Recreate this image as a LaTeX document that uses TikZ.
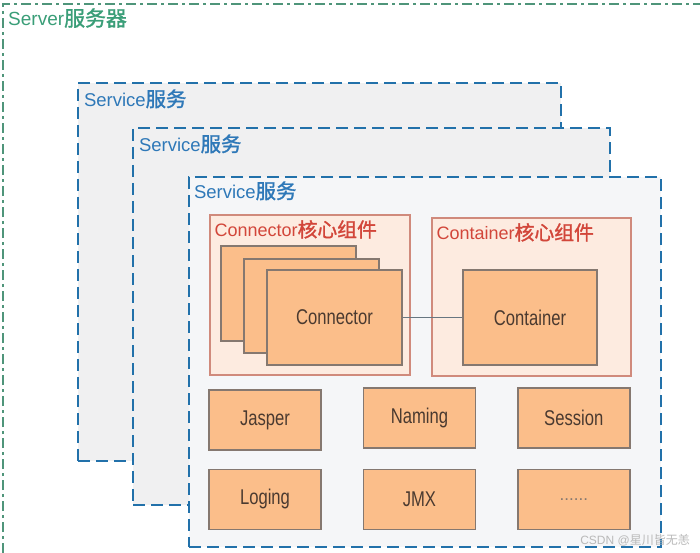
\documentclass[tikz,border=0pt]{standalone}
\usepackage{fontspec}
\setmainfont{Liberation Sans}
\newfontfamily\cjk{Noto Sans CJK SC}[FakeBold=1.5, Scale=1.1]
\newfontfamily\cjkthin{Noto Sans CJK SC}
\usetikzlibrary{positioning}

\definecolor{srvgreen}{HTML}{3A9E78}
\definecolor{svcblue}{HTML}{2271AA}
\definecolor{svctext}{HTML}{2E78B8}
\definecolor{svcgray}{HTML}{F0F0F1}
\definecolor{svclight}{HTML}{F5F6F8}
\definecolor{grpline}{HTML}{D08A7C}
\definecolor{grpfill}{HTML}{FDEBE0}
\definecolor{grptext}{HTML}{D2463A}
\definecolor{compline}{HTML}{857870}
\definecolor{compfill}{HTML}{FBBE8A}
\definecolor{comptext}{HTML}{4A3A30}

\newcommand{\tall}[1]{\scalebox{0.95}[1.22]{#1}}

\tikzset{
  svc/.style={draw=svcblue, line width=2.4pt, dash pattern=on 12pt off 6pt, fill=svcgray, inner sep=0pt},
  svctitle/.style={anchor=west, text=svctext, font=\fontsize{18.5}{20}\selectfont, inner sep=0pt},
  grp/.style={draw=grpline, line width=1.2pt, fill=grpfill, inner sep=0pt},
  grptitle/.style={anchor=west, text=grptext, font=\fontsize{18}{20}\selectfont, inner sep=0pt},
  comp/.style={draw=compline, line width=1.4pt, fill=compfill, text=comptext,
    font=\fontsize{17.5}{19}\selectfont, inner sep=0pt, minimum width=112pt, minimum height=60pt},
}

\begin{document}
\begin{tikzpicture}[x=1pt, y=-1pt]
\useasboundingbox[fill=white] (0,0) rectangle (700,553);

% Server frame
\draw[srvgreen!70!gray, line width=2pt, dash pattern=on 10pt off 4pt on 3pt off 4pt] (3,553) -- (3,4) -- (700,4);
\node[anchor=west, text=srvgreen, font=\fontsize{19}{21}\selectfont, inner sep=0pt] (srvtitle) at (8,18) {Server{\cjk 服务器}};

% Services
\node[svc, minimum width=483pt, minimum height=378pt] (svc1) at (319.5,272) {};
\node[svctitle] (svc1t) at ([xshift=7pt, yshift=-17pt]svc1.north west) {Service{\cjk 服务}};
\node[svc, minimum width=477pt, minimum height=377pt] (svc2) at (371.5,316.5) {};
\node[svctitle] (svc2t) at ([xshift=7pt, yshift=-17pt]svc2.north west) {Service{\cjk 服务}};
\node[svc, fill=svclight, minimum width=472pt, minimum height=370pt] (svc3) at (425,362) {};
\node[svctitle] (svc3t) at ([xshift=6pt, yshift=-15pt]svc3.north west) {Service{\cjk 服务}};

% Core groups
\node[grp, minimum width=200pt, minimum height=160pt] (conngrp) at (310,295) {};
\node[grptitle] (conngrpt) at ([xshift=5pt, yshift=-15pt]conngrp.north west) {Connector{\cjk 核心组件}};
\node[grp, minimum width=199pt, minimum height=158pt] (contgrp) at (531.5,297) {};
\node[grptitle] (contgrpt) at ([xshift=5pt, yshift=-15pt]contgrp.north west) {Container{\cjk 核心组件}};

% Connectors and container
\node[comp, minimum width=135pt, minimum height=95pt] (conn1) at (288.5,293.5) {};
\node[comp, minimum width=135pt, minimum height=94pt] (conn2) at (311.5,306) {};
\node[comp, minimum width=135pt, minimum height=95pt] (conn3) at (334.5,317.5) {\tall{Connector}};
\node[comp, minimum width=134pt, minimum height=95pt] (cont) at (530,317.5) {\tall{Container}};
\draw[compline!70!svcblue, line width=1pt] (conn3) -- (cont);

% Other components
\node[comp] (jasper) at (265,420) {\tall{Jasper}};
\node[comp, right=41pt of jasper, yshift=2pt] (naming) {\tall{Naming}};
\node[comp, right=41pt of naming] (session) {\tall{Session}};
\node[comp, below=18pt of jasper] (loging) {\tall{Loging}};
\node[comp, right=41pt of loging] (jmx) {\tall{JMX}};
\node[comp, right=41pt of jmx, font=\fontsize{17}{19}\selectfont, text=compline] (more) {......};

\node[anchor=east, text=gray!55, font=\fontsize{12}{14}\selectfont, inner sep=0pt] (mark) at (690,540) {CSDN @{\cjkthin 星川皆无恙}};

\end{tikzpicture}
\end{document}
